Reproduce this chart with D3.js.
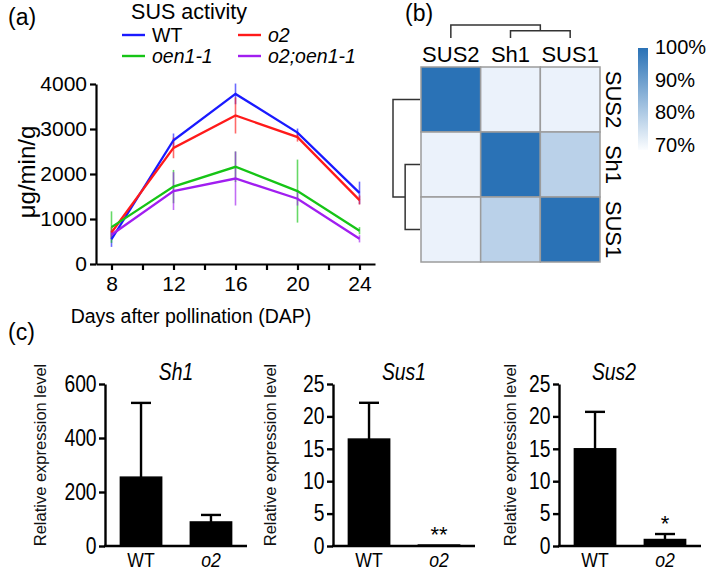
<!DOCTYPE html>
<html>
<head>
<meta charset="utf-8">
<script src="https://cdn.jsdelivr.net/npm/d3@7"></script>
<style>
body { margin: 0; background: #fff; }
svg, svg text { font-family: "Liberation Sans", Arial, sans-serif; }
</style>
</head>
<body>
<div id="chart-area"></div>
<script>
// ---- data: (a) SUS activity, ug/min/g ----
var days = [8, 12, 16, 20, 24];
var wtAct  = [550, 2750, 3780, 2920, 1580];
var wtErr  = [170, 150, 230, 90, 250];
var o2Act  = [700, 2580, 3300, 2820, 1420];
var o2Err  = [120, 230, 400, 100, 100];
var oenAct = [820, 1720, 2160, 1620, 740];
var oenErr = [350, 370, 340, 700, 80];
var dblAct = [650, 1620, 1900, 1450, 560];
var dblErr = [100, 420, 600, 150, 80];
var actTicks = [0, 1000, 2000, 3000, 4000];
var dayTicks = [8, 10, 12, 14, 16, 18, 20, 22, 24];

// ---- data: (b) identity heatmap ----
var genes = ["SUS2", "Sh1", "SUS1"];
var identity = [[100, 70.5, 70.5],
                [70.5, 100, 78],
                [70.5, 78, 100]];
var idTicks = [70, 80, 90, 100];
var mergeHeights = [0.55, 1];   // Sh1+SUS1, then root with SUS2

// ---- data: (c) relative expression ----
var exprGenes = ["Sh1", "Sus1", "Sus2"];
var genotypes = ["WT", "o2"];
var exprMean = [[255, 89], [16.5, 0.15], [15.0, 1.0]];
var exprSD   = [[275, 26], [5.6, 0], [5.7, 0.85]];
var exprMax  = [600, 25, 25];
var exprTicks = [[0, 200, 400, 600], [0, 5, 10, 15, 20, 25], [0, 5, 10, 15, 20, 25]];
var sigMarks = [["", ""], ["", "**"], ["", "*"]];

var svg = d3.select("#chart-area")
  .append("svg")
    .attr("width", 709)
    .attr("height", 572);

// panel letters
svg.append("text").attr("x", 8).attr("y", 25).attr("font-size", "23px").text("(a)");
svg.append("text").attr("x", 405).attr("y", 21).attr("font-size", "23px").text("(b)");
svg.append("text").attr("x", 8).attr("y", 340).attr("font-size", "23px").text("(c)");

// ================= (a) line chart =================
var series = [
  { name: "WT",        vals: wtAct,  err: wtErr,  color: "#1a1aff", italic: false },
  { name: "o2",        vals: o2Act,  err: o2Err,  color: "#ff1a1a", italic: true },
  { name: "oen1-1",    vals: oenAct, err: oenErr, color: "#16c416", italic: true },
  { name: "o2;oen1-1", vals: dblAct, err: dblErr, color: "#a11ef0", italic: true }
];

var xA = d3.scaleLinear().domain([7, 25]).range([96, 375]);
var yA = d3.scaleLinear().domain([0, 4000]).range([264, 84]);

var gA = svg.append("g");

var yAxisA = gA.append("g")
  .attr("transform", "translate(96,0)")
  .call(d3.axisLeft(yA).tickValues(actTicks).tickSize(6).tickSizeOuter(0)
    .tickFormat(d3.format("d")));
var xAxisA = gA.append("g")
  .attr("transform", "translate(0,264)")
  .call(d3.axisBottom(xA).tickValues(dayTicks).tickSize(6).tickSizeOuter(0)
    .tickFormat(function(d){ return d % 4 === 0 ? d : ""; }));
[yAxisA, xAxisA].forEach(function(ax){
  ax.attr("font-family", null);
  ax.selectAll("path, line").attr("stroke", "#000").attr("stroke-width", 2.2);
  ax.selectAll("text").attr("font-size", "21px").attr("fill", "#000");
});
yAxisA.selectAll("text").attr("x", -9);
xAxisA.selectAll("text").attr("y", 12);

// error bars under the lines
series.forEach(function(s){
  gA.append("g")
    .selectAll("line")
    .data(days)
    .enter().append("line")
      .attr("x1", function(d){ return xA(d); })
      .attr("x2", function(d){ return xA(d); })
      .attr("y1", function(d, i){ return yA(s.vals[i] - s.err[i]); })
      .attr("y2", function(d, i){ return yA(s.vals[i] + s.err[i]); })
      .attr("stroke", s.color)
      .attr("stroke-opacity", 0.65)
      .attr("stroke-width", 1.6);
});

var line = d3.line()
  .x(function(d){ return xA(d[0]); })
  .y(function(d){ return yA(d[1]); });

series.forEach(function(s){
  gA.append("path")
    .datum(days.map(function(d, i){ return [d, s.vals[i]]; }))
    .attr("fill", "none")
    .attr("stroke", s.color)
    .attr("stroke-width", 2.3)
    .attr("d", line);
});

// axis labels
gA.append("text")
  .attr("x", 191).attr("y", 323)
  .attr("text-anchor", "middle")
  .attr("font-size", "19.5px")
  .text("Days  after pollination (DAP)");
gA.append("text")
  .attr("transform", "translate(35,172) rotate(-90)")
  .attr("text-anchor", "middle")
  .attr("font-size", "24px")
  .text("\u03bcg/min/g");

// legend
gA.append("text")
  .attr("x", 189).attr("y", 19)
  .attr("text-anchor", "middle")
  .attr("font-size", "21.5px")
  .text("SUS activity");
var legend = gA.append("g")
  .selectAll("g")
  .data(series)
  .enter().append("g")
    .attr("transform", function(d, i){
      return "translate(" + (i % 2 === 0 ? 122 : 238) + "," + (i < 2 ? 35 : 56) + ")";
    });
legend.append("line")
  .attr("x1", 0).attr("x2", 23)
  .attr("stroke", function(d){ return d.color; })
  .attr("stroke-width", 2.4);
legend.append("text")
  .attr("x", 30).attr("dy", "0.35em")
  .attr("font-size", "19.5px")
  .attr("font-style", function(d){ return d.italic ? "italic" : "normal"; })
  .text(function(d){ return d.name; });

// ================= (b) heatmap =================
var xB = d3.scaleBand().domain(genes).range([421, 600]);
var yB = d3.scaleBand().domain(genes).range([67, 262]);
var colorB = d3.scaleLinear().domain([70, 100]).range(["#eef4fc", "#2a72b6"]);

var cells = [];
identity.forEach(function(row, i){
  row.forEach(function(v, j){ cells.push({ r: genes[i], c: genes[j], v: v }); });
});

var gB = svg.append("g");
gB.selectAll("rect.cell")
  .data(cells)
  .enter().append("rect")
    .attr("class", "cell")
    .attr("x", function(d){ return xB(d.c); })
    .attr("y", function(d){ return yB(d.r); })
    .attr("width", xB.bandwidth())
    .attr("height", yB.bandwidth())
    .attr("fill", function(d){ return colorB(d.v); })
    .attr("stroke", "#9c9c9c")
    .attr("stroke-width", 1.5);

gB.selectAll("text.col")
  .data(genes)
  .enter().append("text")
    .attr("class", "col")
    .attr("x", function(d){ return xB(d) + xB.bandwidth() / 2; })
    .attr("y", 62)
    .attr("text-anchor", "middle")
    .attr("font-size", "22px")
    .text(function(d){ return d; });

gB.selectAll("text.row")
  .data(genes)
  .enter().append("text")
    .attr("class", "row")
    .attr("transform", function(d){
      return "translate(606," + (yB(d) + yB.bandwidth() / 2) + ") rotate(90)";
    })
    .attr("text-anchor", "middle")
    .attr("font-size", "22px")
    .text(function(d){ return d; });

// dendrograms
var topH = d3.scaleLinear().domain([0, 1]).range([38, 25]);
var leftH = d3.scaleLinear().domain([0, 1]).range([420, 393]);
var cx = function(g){ return xB(g) + xB.bandwidth() / 2; };
var cy = function(g){ return yB(g) + yB.bandwidth() / 2; };
var midX = (cx("Sh1") + cx("SUS1")) / 2;
var midY = (cy("Sh1") + cy("SUS1")) / 2;

var topPath = d3.path();
topPath.moveTo(cx("Sh1"), topH(0)); topPath.lineTo(cx("Sh1"), topH(mergeHeights[0]));
topPath.lineTo(cx("SUS1"), topH(mergeHeights[0])); topPath.lineTo(cx("SUS1"), topH(0));
topPath.moveTo(midX, topH(mergeHeights[0])); topPath.lineTo(midX, topH(mergeHeights[1]));
topPath.lineTo(cx("SUS2"), topH(mergeHeights[1])); topPath.lineTo(cx("SUS2"), topH(0));

var leftPath = d3.path();
leftPath.moveTo(leftH(0), cy("Sh1")); leftPath.lineTo(leftH(mergeHeights[0]), cy("Sh1"));
leftPath.lineTo(leftH(mergeHeights[0]), cy("SUS1")); leftPath.lineTo(leftH(0), cy("SUS1"));
leftPath.moveTo(leftH(mergeHeights[0]), midY); leftPath.lineTo(leftH(mergeHeights[1]), midY);
leftPath.lineTo(leftH(mergeHeights[1]), cy("SUS2")); leftPath.lineTo(leftH(0), cy("SUS2"));

[topPath, leftPath].forEach(function(p){
  gB.append("path")
    .attr("d", p.toString())
    .attr("fill", "none")
    .attr("stroke", "#333")
    .attr("stroke-width", 1.5);
});

// colour bar
var grad = svg.append("defs").append("linearGradient")
  .attr("id", "idGrad")
  .attr("x1", 0).attr("x2", 0).attr("y1", 0).attr("y2", 1);
grad.append("stop").attr("offset", "0%").attr("stop-color", colorB(100));
grad.append("stop").attr("offset", "100%").attr("stop-color", colorB(68));

var yC = d3.scaleLinear().domain([70, 100]).range([145, 47]);
gB.append("rect")
  .attr("x", 638).attr("y", 48)
  .attr("width", 10).attr("height", 102)
  .attr("fill", "url(#idGrad)");
gB.selectAll("text.cbar")
  .data(idTicks)
  .enter().append("text")
    .attr("class", "cbar")
    .attr("x", 655)
    .attr("y", function(d){ return yC(d); })
    .attr("dy", "0.35em")
    .attr("font-size", "20px")
    .text(function(d){ return d + "%"; });

// ================= (c) bar charts =================
var axisX = [105, 333, 559];
var yLabelX = [46, 276, 516];
var titleShift = [0, 0, -16];
var plotW = 142;
var squeeze = "scale(0.84,1)";   // the panel's text is horizontally condensed

exprGenes.forEach(function(gene, k){
  var g = svg.append("g").attr("transform", "translate(" + axisX[k] + ",0)");

  var x = d3.scaleBand().domain(genotypes).range([0, plotW])
    .paddingInner(0.41).paddingOuter(0.22);
  var y = d3.scaleLinear().domain([0, exprMax[k]]).range([546, 384]);

  var yAxis = g.append("g")
    .call(d3.axisLeft(y).tickValues(exprTicks[k]).tickSize(6).tickSizeOuter(0));
  yAxis.attr("font-family", null);
  yAxis.selectAll("path, line").attr("stroke", "#000").attr("stroke-width", 2.4);
  yAxis.selectAll("text")
    .attr("font-size", "23px").attr("fill", "#000")
    .attr("x", -10).attr("transform", squeeze);

  g.append("line")
    .attr("x1", -1).attr("x2", plotW)
    .attr("y1", 546).attr("y2", 546)
    .attr("stroke", "#000").attr("stroke-width", 2.4);

  var rows = genotypes.map(function(gt, i){
    return { gt: gt, m: exprMean[k][i], sd: exprSD[k][i], sig: sigMarks[k][i] };
  });

  // error bars (upper only)
  var eb = g.selectAll("g.err").data(rows).enter().append("g").attr("class", "err");
  eb.filter(function(d){ return d.sd > 0; }).append("line")
    .attr("x1", function(d){ return x(d.gt) + x.bandwidth() / 2; })
    .attr("x2", function(d){ return x(d.gt) + x.bandwidth() / 2; })
    .attr("y1", function(d){ return y(d.m); })
    .attr("y2", function(d){ return y(d.m + d.sd); })
    .attr("stroke", "#000").attr("stroke-width", 2.4);
  eb.filter(function(d){ return d.sd > 0; }).append("line")
    .attr("x1", function(d){ return x(d.gt) + x.bandwidth() / 2 - 10; })
    .attr("x2", function(d){ return x(d.gt) + x.bandwidth() / 2 + 10; })
    .attr("y1", function(d){ return y(d.m + d.sd); })
    .attr("y2", function(d){ return y(d.m + d.sd); })
    .attr("stroke", "#000").attr("stroke-width", 2.4);

  g.selectAll("rect.bar")
    .data(rows)
    .enter().append("rect")
      .attr("class", "bar")
      .attr("x", function(d){ return x(d.gt); })
      .attr("width", x.bandwidth())
      .attr("y", function(d){ return y(d.m); })
      .attr("height", function(d){ return 546 - y(d.m); })
      .attr("fill", "#000")
      .attr("stroke", "#000")
      .attr("stroke-width", 1.5);

  // asterisk glyphs sit high in the em box, so the baseline goes close to the cap
  g.selectAll("text.sig")
    .data(rows.filter(function(d){ return d.sig; }))
    .enter().append("text")
      .attr("class", "sig")
      .attr("x", function(d){ return x(d.gt) + x.bandwidth() / 2; })
      .attr("y", function(d){ return y(d.m + d.sd) - 3; })
      .attr("text-anchor", "middle")
      .attr("font-size", "22px")
      .text(function(d){ return d.sig; });

  g.selectAll("text.gt")
    .data(rows)
    .enter().append("text")
      .attr("class", "gt")
      .attr("transform", function(d){
        return "translate(" + (x(d.gt) + x.bandwidth() / 2) + ",567) " + squeeze;
      })
      .attr("text-anchor", "middle")
      .attr("font-size", "21px")
      .attr("font-style", function(d){ return d.gt === "o2" ? "italic" : "normal"; })
      .text(function(d){ return d.gt; });

  g.append("text")
    .attr("transform", "translate(" + (plotW / 2 + titleShift[k]) + ",380) " + squeeze)
    .attr("text-anchor", "middle")
    .attr("font-size", "23px")
    .attr("font-style", "italic")
    .text(gene);

  svg.append("text")
    .attr("transform", "translate(" + yLabelX[k] + ",455) rotate(-90)")
    .attr("text-anchor", "middle")
    .attr("font-size", "16.5px")
    .attr("fill", "#111")
    .text("Relative expression level");
});
</script>
</body>
</html>
